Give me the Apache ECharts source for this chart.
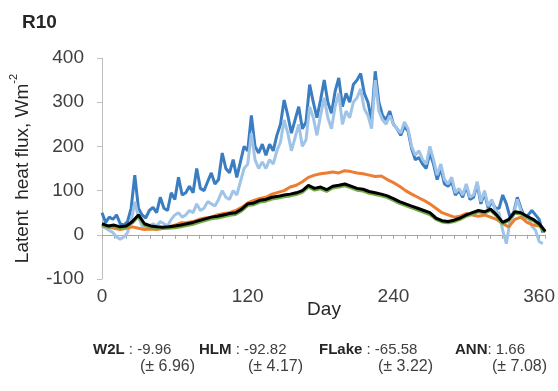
<!DOCTYPE html>
<html>
<head>
<meta charset="utf-8">
<script src="https://cdn.jsdelivr.net/npm/echarts@6/dist/echarts.min.js"></script>
<style>
  html, body { margin: 0; padding: 0; background: #fff; }
  #chart { width: 558px; height: 391px; }
</style>
</head>
<body>
<div id="chart"></div>
<script>
  'use strict';

  // day positions: noisy series every 3 days, smooth ones every 5 days
  var daysFine = [];
  for (var d = 0; d <= 363; d += 3) { daysFine.push(d); }
  var daysCoarse = [];
  for (var k = 0; k <= 365; k += 5) { daysCoarse.push(k); }

  var xTickLabels = [0, 120, 240, 360];

  var darkBlue = [50, 28, 40, 35, 45, 25, 22, 30, 60, 135, 60, 45, 38, 55, 62, 50, 85, 60, 55, 95,
    80, 130, 90, 95, 110, 95, 150, 105, 100, 120, 140, 115, 125, 185, 150, 140, 170, 130, 165, 200,
    190, 270, 200, 185, 205, 180, 205, 190, 225, 250, 305, 270, 230, 260, 290, 240, 255, 340, 300, 265,
    305, 350, 300, 275, 325, 355, 290, 320, 300, 340, 350, 365, 320, 300, 260, 370, 300, 270, 260, 280,
    250, 240, 225, 245, 235, 195, 170, 175, 160, 150, 185, 160, 125, 150, 115, 110, 120, 90, 100, 85,
    110, 80, 85, 115, 70, 95, 60, 75, 60, 60, 90, 70, 40, 50, 85, 60, 40, 45, 55, 45, 35, 5];

  var lightBlue = [20, 15, 10, 5, -5, -10, -5, 5, 30, 75, 40, 20, 15, 20, 25, 20, 30, 25, 20, 35,
    45, 50, 40, 45, 55, 50, 70, 55, 60, 75, 70, 65, 80, 100, 85, 80, 100, 90, 120, 150,
    160, 230, 170, 150, 165, 150, 170, 160, 190, 210, 260, 230, 190, 220, 250, 200, 215, 290, 265, 225,
    270, 310, 265, 240, 290, 320, 250, 280, 265, 300, 310, 330, 285, 270, 240, 350, 280, 260, 250, 270,
    250, 240, 230, 255, 240, 200, 180, 190, 170, 160, 200, 170, 135, 160, 125, 115, 130, 95, 105, 90,
    115, 85, 90, 120, 75, 100, 65, 80, 55, 50, 10, -20, 30, 45, 80, 55, 35, 40, 20, 10, -15, -20];

  var orange = [20, 18, 15, 12, 15, 18, 15, 12, 13, 12, 14, 18, 22, 27, 28, 30, 35, 38, 40, 45,
    48, 50, 55, 62, 72, 78, 82, 85, 92, 96, 100, 108, 112, 120, 130, 135, 138, 140, 142, 140,
    145, 143, 140, 138, 135, 132, 133, 125, 118, 110, 100, 92, 85, 78, 70, 60, 50, 45, 40, 42,
    48, 45, 42, 45, 40, 35, 25, 18, 35, 40, 28, 22, 20, 6];

  var green = [22, 17, 19, 15, 17, 27, 42, 22, 17, 15, 14, 15, 16, 18, 21, 24, 28, 32, 36, 38,
    41, 44, 46, 54, 66, 68, 74, 76, 81, 83, 86, 88, 91, 96, 108, 101, 104, 98, 106, 108,
    111, 106, 101, 99, 94, 91, 88, 84, 78, 71, 66, 61, 56, 51, 46, 35, 29, 27, 30, 35,
    42, 47, 52, 49, 55, 42, 25, 32, 49, 47, 39, 32, 22, 6];

  var black = [25, 20, 22, 18, 20, 30, 45, 25, 20, 18, 17, 18, 20, 22, 25, 28, 32, 36, 40, 42,
    45, 48, 50, 58, 70, 72, 78, 80, 85, 87, 90, 92, 95, 100, 112, 105, 108, 102, 110, 112,
    115, 110, 105, 103, 98, 95, 92, 88, 82, 75, 70, 65, 60, 55, 50, 38, 32, 30, 33, 38,
    45, 50, 55, 52, 58, 45, 28, 35, 52, 50, 42, 35, 25, 8];

  var statNames = ['W2L', 'HLM', 'FLake', 'ANN'];
  var statMeans = [' : -9.96', ' : -92.82', ' : -65.58', ': 1.66'];
  var statSds = ['(\u00b1 6.96)', '(\u00b1 4.17)', '(\u00b1 3.22)', '(\u00b1 7.08)'];

  function pairs(days, vals) {
    return vals.map(function(v, i) { return [days[i], v]; });
  }

  function line(name, days, vals, color, width) {
    return {
      name: name,
      type: 'line',
      data: pairs(days, vals),
      showSymbol: false,
      symbol: 'none',
      lineStyle: { color: color, width: width },
      itemStyle: { color: color }
    };
  }

  var statX = [93, 199, 319, 455];
  var sdRight = [195, 303, 433, 547];
  var graphics = [{
    type: 'text', left: 22, top: 13,
    style: { text: 'R10', font: 'bold 19px "Liberation Sans", Arial, sans-serif', fill: '#262626' }
  }, {
    type: 'text', x: 324, y: 310,
    style: {
      text: 'Day', font: '19px "Liberation Sans", Arial, sans-serif', fill: '#262626',
      align: 'center', verticalAlign: 'middle'
    }
  }];
  statNames.forEach(function(n, i) {
    graphics.push({
      type: 'text', left: statX[i], top: 342,
      style: {
        text: '{b|' + n + '}{n|' + statMeans[i] + '}',
        rich: {
          b: { font: 'bold 15px "Liberation Sans", Arial, sans-serif', fill: '#262626' },
          n: { font: '15px "Liberation Sans", Arial, sans-serif', fill: '#404040' }
        }
      }
    });
    graphics.push({
      type: 'text', right: 558 - sdRight[i], top: 359,
      style: { text: statSds[i], font: '16px "Liberation Sans", Arial, sans-serif', fill: '#404040' }
    });
  });

  var chart = echarts.init(document.getElementById('chart'), null, { renderer: 'canvas' });
  chart.setOption({
    animation: false,
    backgroundColor: '#fff',
    textStyle: { fontFamily: '"Liberation Sans", Arial, sans-serif' },
    grid: { left: 102, right: 12, top: 58, bottom: 112, containLabel: false },
    xAxis: {
      type: 'value',
      min: 0,
      max: 365,
      interval: 120,
      axisLine: { onZero: true, lineStyle: { color: '#a6a6a6' } },
      axisTick: { show: true, length: 4, lineStyle: { color: '#a6a6a6' } },
      minorTick: { show: true, splitNumber: 12, length: 4, lineStyle: { color: '#a6a6a6' } },
      splitLine: { show: false },
      axisLabel: {
        fontSize: 19, color: '#404040', margin: 8,
        formatter: function(v) { return xTickLabels.indexOf(v) >= 0 ? String(v) : ''; }
      }
    },
    yAxis: {
      type: 'value',
      min: -100,
      max: 400,
      interval: 100,
      name: '{m|Latent  heat flux, Wm}{s|-2}',
      nameLocation: 'middle',
      nameGap: 70,
      nameRotate: 90,
      nameTextStyle: {
        rich: {
          m: { fontSize: 19, color: '#262626', lineHeight: 24, verticalAlign: 'bottom' },
          s: { fontSize: 11, color: '#262626', lineHeight: 24, verticalAlign: 'top' }
        }
      },
      axisLine: { show: true, lineStyle: { color: '#bfbfbf' } },
      axisTick: { show: true, length: 5, lineStyle: { color: '#bfbfbf' } },
      splitLine: { show: false },
      axisLabel: { fontSize: 19, color: '#404040', margin: 18 }
    },
    graphic: graphics,
    series: [
      line('W2L', daysFine, darkBlue, '#3a7dc0', 3),
      line('W2L obs', daysFine, lightBlue, '#9fc4e8', 3),
      line('HLM', daysCoarse, orange, '#ed7d31', 3),
      line('FLake', daysCoarse, green, '#70ad47', 3),
      line('ANN', daysCoarse, black, '#000000', 3)
    ]
  });
</script>
</body>
</html>
